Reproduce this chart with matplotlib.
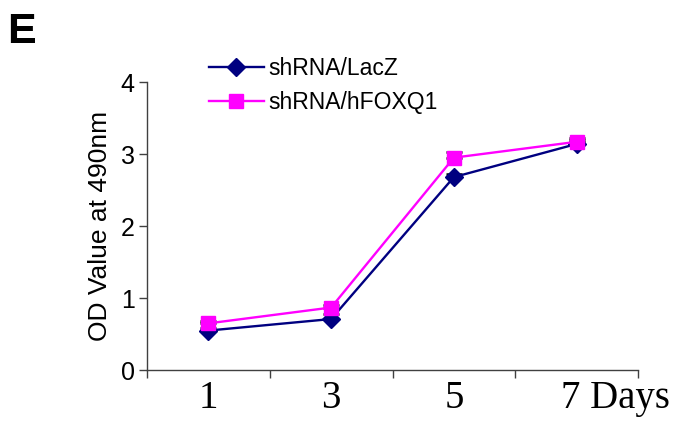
import matplotlib
matplotlib.use("Agg")
import matplotlib.pyplot as plt
import matplotlib.transforms as mtransforms
import numpy as np

days = ["1", "3", "5", "7 Days"]
lacz = [0.55, 0.71, 2.68, 3.14]
lacz_err = [0.04, 0.07, 0.05, 0.06]
foxq1 = [0.65, 0.87, 2.95, 3.17]
foxq1_err = [0.03, 0.03, 0.08, 0.05]
yticks = [0, 1, 2, 3, 4]

fig = plt.figure(figsize=(6.75, 4.25), dpi=100)
ax = fig.add_axes([0.218, 0.129, 0.727, 0.678])
x = np.arange(len(days))

ax.errorbar(x, lacz, yerr=[np.zeros(4), lacz_err], fmt='none', ecolor='black',
            elinewidth=1.2, capsize=6, capthick=1.8, zorder=2)
ax.errorbar(x, foxq1, yerr=[np.zeros(4), foxq1_err], fmt='none', ecolor='black',
            elinewidth=1.2, capsize=6, capthick=1.8, zorder=2)
ax.plot(x, lacz, color='#000080', marker='D', markersize=9, lw=1.7,
        label='shRNA/LacZ', zorder=3)
ax.plot(x, foxq1, color='#FF00FF', marker='s', markersize=9.5, lw=1.7,
        label='shRNA/hFOXQ1', zorder=4)

ax.set_xlim(-0.5, 3.5)
ax.set_ylim(0, 4)
ax.set_yticks(yticks)
ax.set_yticklabels([str(v) for v in yticks], fontsize=18, family='Liberation Sans')
ax.set_xticks(x)
ax.set_xticklabels(days, fontsize=28, family='Liberation Serif')
ax.set_xticks(np.arange(-0.5, 3.6, 1), minor=True)
ax.tick_params(axis='x', which='major', length=0, pad=7)
ax.tick_params(axis='x', which='minor', length=6, width=1, color='#404040', direction='out')
ax.tick_params(axis='y', length=6, width=1, color='#404040', pad=3)
for s in ['top', 'right']:
    ax.spines[s].set_visible(False)
for s in ['left', 'bottom']:
    ax.spines[s].set_color('#404040')
    ax.spines[s].set_linewidth(1)

# last label starts just left of its category centre
last = ax.get_xticklabels()[-1]
last.set_ha('left')
last.set_transform(last.get_transform() +
                   mtransforms.ScaledTranslation(-0.16, 0, fig.dpi_scale_trans))

ax.set_ylabel('OD Value at 490nm', fontsize=19, family='Liberation Sans', labelpad=6)

leg = fig.legend(loc='upper left', bbox_to_anchor=(0.296, 0.888), frameon=False,
                 prop={'family': 'Liberation Sans', 'size': 16.5}, handlelength=2.4,
                 handletextpad=0.2, labelspacing=0.5, borderaxespad=0)

fig.text(0.010, 0.972, 'E', fontsize=31, fontweight='bold', family='Liberation Sans',
         va='top', ha='left')

fig.savefig('out.png', dpi=100)
